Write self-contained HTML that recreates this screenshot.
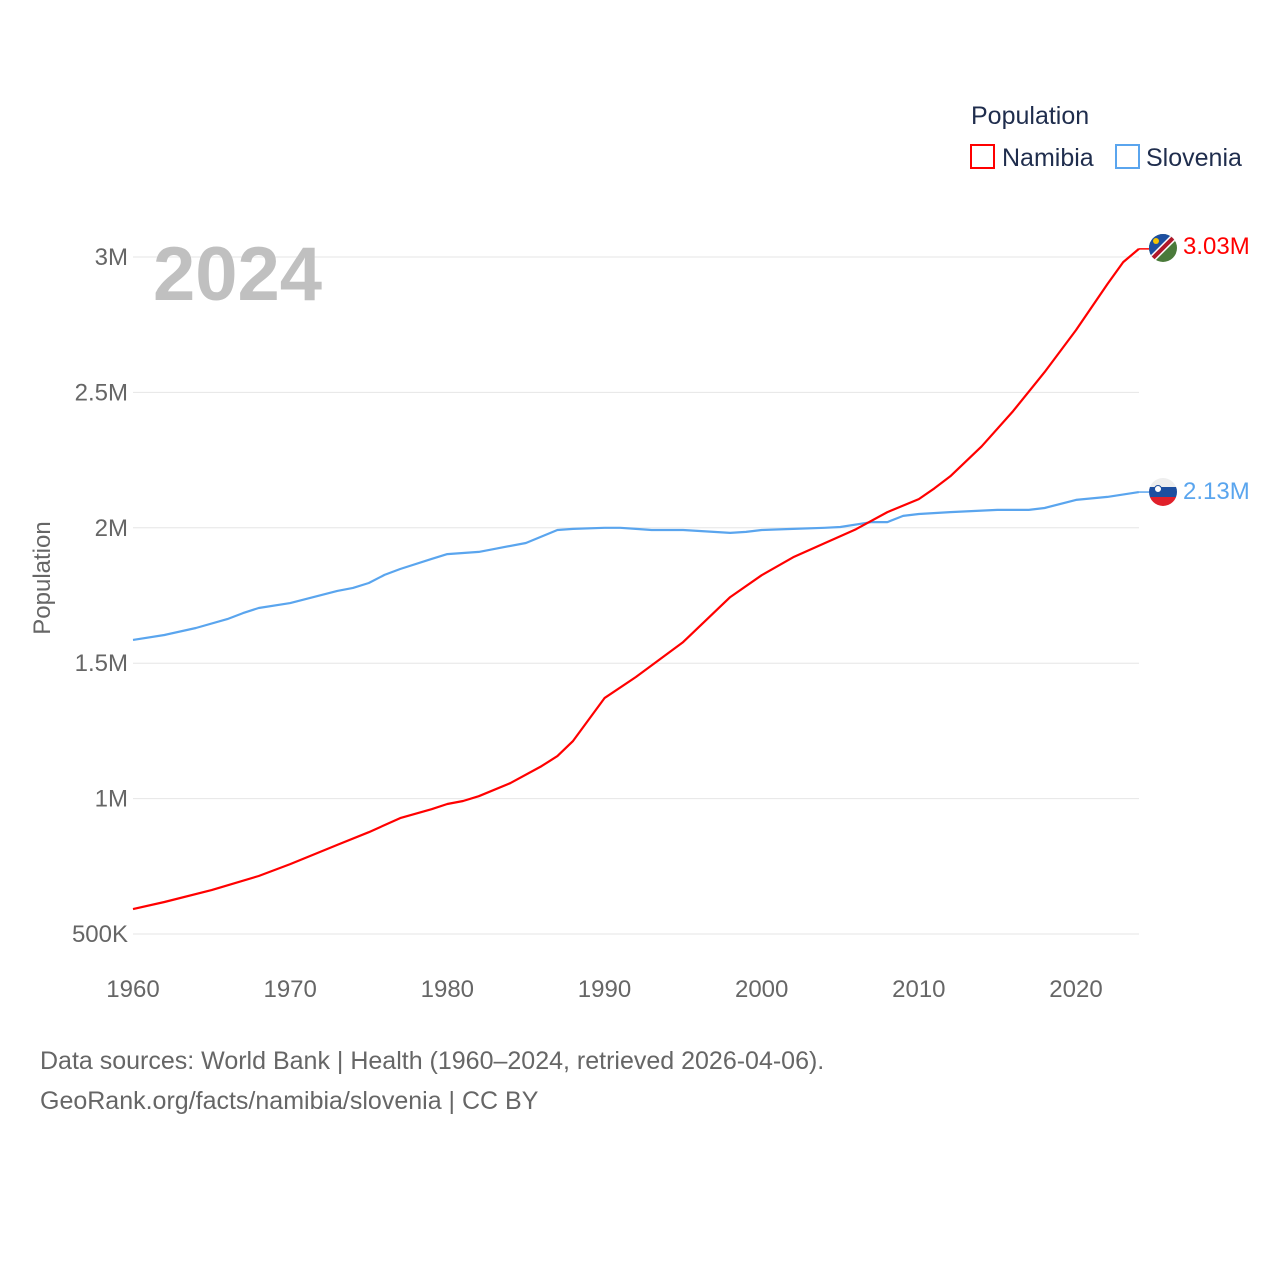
<!DOCTYPE html>
<html><head><meta charset="utf-8">
<style>
body{margin:0;background:#fff;}
svg text{font-family:"Liberation Sans",sans-serif;}
</style></head>
<body>
<svg id="chart" width="1280" height="1280" viewBox="0 0 1280 1280" xmlns="http://www.w3.org/2000/svg">
<rect width="1280" height="1280" fill="#fff"/>
<g id="grid"></g>
<g id="axes"></g>
<text x="153" y="300" font-size="76" font-weight="bold" fill="#c0c0c0">2024</text>
<text transform="translate(50,578) rotate(-90)" text-anchor="middle" font-size="24" fill="#666">Population</text>
<g id="series"></g>
<g>
<text x="971" y="124" font-size="25" fill="#1f2d4d">Population</text>
<rect x="971" y="145" width="23" height="23" fill="none" stroke="#ff0000" stroke-width="2"/>
<text x="1002" y="166" font-size="25" fill="#1f2d4d">Namibia</text>
<rect x="1116" y="145" width="23" height="23" fill="none" stroke="#5aa5ee" stroke-width="2"/>
<text x="1146" y="166" font-size="25" fill="#1f2d4d">Slovenia</text>
</g>
<g>
<clipPath id="cn"><circle cx="1163" cy="248" r="14"/></clipPath>
<g clip-path="url(#cn)">
<rect x="1149" y="234" width="28" height="28" fill="#4a7a3a"/>
<polygon points="1149,234 1177,234 1149,262" fill="#1d4fa0"/>
<line x1="1149" y1="262" x2="1177" y2="234" stroke="#fff" stroke-width="7"/>
<line x1="1149" y1="262" x2="1177" y2="234" stroke="#b0182a" stroke-width="4"/>
<circle cx="1156" cy="241" r="3" fill="#f5c400"/>
</g></g>
<g>
<clipPath id="cs"><circle cx="1163" cy="492" r="14"/></clipPath>
<g clip-path="url(#cs)">
<rect x="1149" y="478" width="28" height="10" fill="#eee"/>
<rect x="1149" y="487" width="28" height="10" fill="#1d4fa0"/>
<rect x="1149" y="497" width="28" height="10" fill="#e0202a"/>
<circle cx="1158" cy="489" r="3.5" fill="#fff" stroke="#1d4fa0"/>
</g></g>
<text x="1183" y="254" font-size="24" fill="#ff0000">3.03M</text>
<text x="1183" y="499" font-size="24" fill="#5aa5ee">2.13M</text>
<text x="40" y="1069" font-size="25" fill="#666">Data sources: World Bank | Health (1960–2024, retrieved 2026-04-06).</text>
<text x="40" y="1109" font-size="25" fill="#666">GeoRank.org/facts/namibia/slovenia | CC BY</text>
</svg>
<script>
const yTicks=[0.5,1,1.5,2,2.5,3];
const yTickLabels=["500K","1M","1.5M","2M","2.5M","3M"];
const xTicks=[1960,1970,1980,1990,2000,2010,2020];
const namYears=[1960,1962,1965,1968,1970,1973,1975,1977,1979,1980,1981,1982,1984,1986,1987,1988,1990,1992,1995,1998,2000,2002,2004,2006,2008,2010,2011,2012,2014,2016,2018,2020,2022,2023,2024];
const namValues=[0.592,0.618,0.662,0.714,0.758,0.829,0.876,0.928,0.961,0.980,0.991,1.009,1.057,1.120,1.157,1.213,1.371,1.449,1.578,1.744,1.825,1.891,1.943,1.995,2.058,2.106,2.146,2.190,2.301,2.431,2.575,2.730,2.900,2.981,3.03];
const sloYears=[1960,1962,1964,1966,1967,1968,1970,1973,1974,1975,1976,1977,1979,1980,1982,1983,1985,1987,1988,1990,1991,1992,1993,1995,1998,1999,2000,2002,2004,2005,2007,2008,2009,2010,2012,2015,2017,2018,2020,2022,2024];
const sloValues=[1.586,1.604,1.630,1.663,1.685,1.704,1.722,1.767,1.778,1.796,1.826,1.848,1.885,1.903,1.911,1.922,1.944,1.992,1.996,2.0,2.0,1.996,1.992,1.992,1.981,1.985,1.992,1.996,2.0,2.003,2.021,2.021,2.044,2.051,2.058,2.066,2.066,2.073,2.103,2.114,2.132];
const NS="http://www.w3.org/2000/svg";
const X=y=>133+(y-1960)*(1076-133)/60;
const Y=v=>934-(v-0.5)*(934-257)/2.5;
const grid=document.getElementById('grid'),axes=document.getElementById('axes'),series=document.getElementById('series');
yTicks.forEach((t,i)=>{
 const l=document.createElementNS(NS,'line');
 l.setAttribute('x1',133);l.setAttribute('x2',1139);l.setAttribute('y1',Y(t));l.setAttribute('y2',Y(t));
 l.setAttribute('stroke','#e6e6e6');l.setAttribute('stroke-width',1);
 
 
 grid.appendChild(l);
 const tx=document.createElementNS(NS,'text');
 tx.setAttribute('x',128);tx.setAttribute('y',Y(t)+8);tx.setAttribute('text-anchor','end');
 tx.setAttribute('font-size',24);tx.setAttribute('fill','#666');tx.textContent=yTickLabels[i];
 
 
 axes.appendChild(tx);
});
xTicks.forEach(t=>{
 const tx=document.createElementNS(NS,'text');
 tx.setAttribute('x',X(t));tx.setAttribute('y',997);tx.setAttribute('text-anchor','middle');
 tx.setAttribute('font-size',24);tx.setAttribute('fill','#666');tx.textContent=t;
 
 
 axes.appendChild(tx);
});
function line(years,vals,color,name){
 const p=document.createElementNS(NS,'polyline');
 p.setAttribute('points',years.map((y,i)=>X(y).toFixed(1)+','+Y(vals[i]).toFixed(1)).join(' '));
 p.setAttribute('fill','none');p.setAttribute('stroke',color);p.setAttribute('stroke-width',2.2);
 p.setAttribute('stroke-linejoin','round');
 
 
 series.appendChild(p);
 const c=document.createElementNS(NS,'line');
 const ly=Y(vals[vals.length-1]);
 c.setAttribute('x1',X(years[years.length-1]));c.setAttribute('x2',1149);c.setAttribute('y1',ly);c.setAttribute('y2',ly);
 c.setAttribute('stroke',color);c.setAttribute('stroke-width',1.5);
 
 
 series.appendChild(c);
}
line(sloYears,sloValues,'#5aa5ee','slovenia-line');
line(namYears,namValues,'#ff0000','namibia-line');
</script>
</body></html>
